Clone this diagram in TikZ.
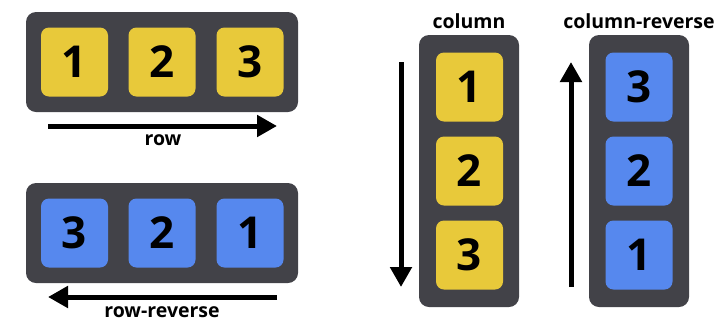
\documentclass[tikz,border=0pt]{standalone}
\usepackage{fontspec}
\setmainfont{Open Sans}
\usetikzlibrary{arrows.meta}
\definecolor{cont}{HTML}{424248}
\definecolor{ybox}{HTML}{E8C93A}
\definecolor{bbox}{HTML}{5688EE}
\tikzset{
  container/.style={fill=cont, rounded corners=10pt, draw=none, inner sep=0pt},
  item/.style={rounded corners=8pt, minimum width=67pt, minimum height=69pt, inner sep=0pt, font=\fontsize{44}{44}\selectfont\bfseries, text=black},
  yitem/.style={item, fill=ybox},
  bitem/.style={item, fill=bbox},
  flowarrow/.style={line width=5pt, -{Triangle[length=20pt,width=21pt]}},
  lbl/.style={font=\fontsize{19.5}{19.5}\selectfont\bfseries, inner sep=0pt}
}
\begin{document}
\begin{tikzpicture}[x=1pt,y=-1pt]
\useasboundingbox (0,0) rectangle (722,322);
% row
\node[container, minimum width=272pt, minimum height=100pt] (rowc) at (162,62) {};
\node[yitem] (r1) at (74.5,62) {1};
\node[yitem] (r2) at (162,62) {2};
\node[yitem] (r3) at (250,62) {3};
\coordinate (ra) at (48,126);
\coordinate (rb) at (277,126);
\draw[flowarrow] (ra) -- (rb);
\node[lbl] (rowl) at (163,140) {row};
% row-reverse
\node[container, minimum width=272pt, minimum height=100pt] (rrc) at (162,233) {};
\node[bitem] (rr3) at (74.5,233) {3};
\node[bitem] (rr2) at (162,233) {2};
\node[bitem] (rr1) at (250,233) {1};
\coordinate (rra) at (277,297);
\coordinate (rrb) at (48,297);
\draw[flowarrow] (rra) -- (rrb);
\node[lbl] (rrl) at (162,312) {row-reverse};
% column
\node[container, minimum width=100pt, minimum height=272pt] (colc) at (469,171) {};
\node[yitem] (c1) at (469.5,87) {1};
\node[yitem] (c2) at (469.5,171) {2};
\node[yitem] (c3) at (469.5,255) {3};
\coordinate (ca) at (401,62);
\coordinate (cb) at (401,287);
\draw[flowarrow] (ca) -- (cb);
\node[lbl] (coll) at (469,21) {column};
% column-reverse
\node[container, minimum width=100pt, minimum height=272pt] (crc) at (639,171) {};
\node[bitem] (cr3) at (639,87) {3};
\node[bitem] (cr2) at (639,171) {2};
\node[bitem] (cr1) at (639,255) {1};
\coordinate (cra) at (571,287);
\coordinate (crb) at (571,62);
\draw[flowarrow] (cra) -- (crb);
\node[lbl] (crl) at (639,21) {column-reverse};
\end{tikzpicture}
\end{document}
